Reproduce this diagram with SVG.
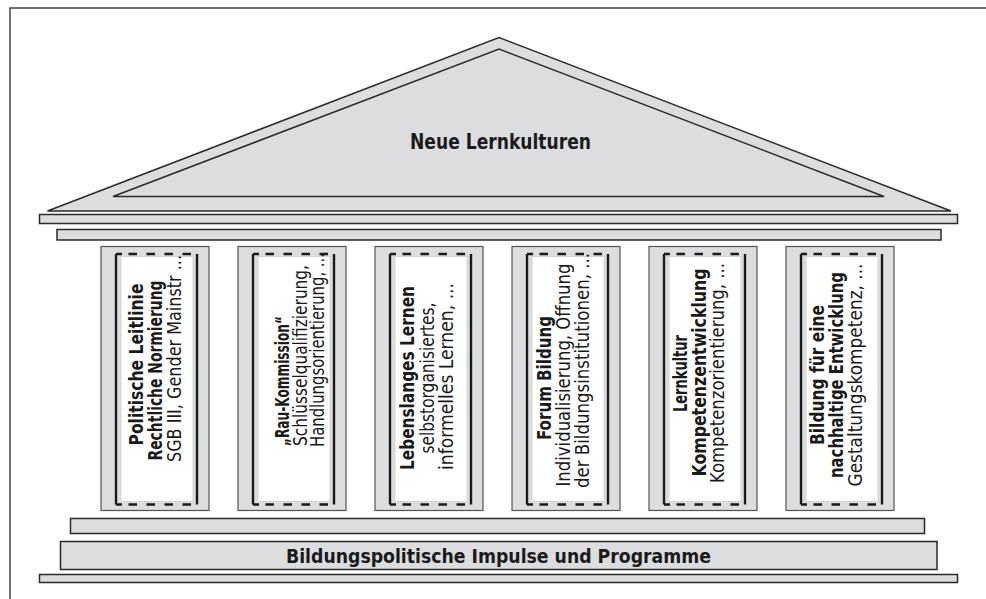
<svg xmlns="http://www.w3.org/2000/svg" width="986" height="599" viewBox="0 0 986 599">
<style>
.frame{fill:none;stroke:#444;stroke-width:1.5}
.g{fill:#dcdddf;stroke:#2a2a2a;stroke-width:1.5}
.colbox{fill:#dcdddf;stroke:#555;stroke-width:1.2}
.inner{fill:#fff;stroke:#d4d4d4;stroke-width:1}
.solid{stroke:#1a1a1a;stroke-width:2.4;fill:none}
.dash{stroke:#1a1a1a;stroke-width:2.4;fill:none;stroke-dasharray:6 6.5 8.5 9.5 8.5 9.5 8.5 9.5 8.5 6}
.b,.r,.t,.u{font-family:"DejaVu Sans Condensed","Liberation Sans",Arial,sans-serif;font-stretch:condensed;fill:#1a1a1a}
.b{font-weight:bold;font-size:19.5px}
.r{font-size:19.5px}
.t{font-weight:bold;font-size:22px}
.u{font-weight:bold;font-size:20px}
</style>
<defs>
<g id="colshape">
<rect class="colbox" x="0" y="0" width="108" height="264"/>
<rect class="inner" x="20" y="10" width="72" height="245"/>
<line class="solid" x1="15" y1="7.5" x2="15" y2="258"/>
<line class="solid" x1="96" y1="7.5" x2="96" y2="258"/>
<line class="dash" x1="15" y1="7.5" x2="96" y2="7.5"/>
<line class="dash" x1="15" y1="258" x2="96" y2="258"/>
</g>
</defs>
<path class="frame" d="M986 8 H10 V599"/>
<g id="roof">
<polygon class="g" points="47.5,211 499,37.5 951,211"/>
<polygon class="g" points="113,196.5 499,49 884,196.5"/>
<text class="t" x="500.5" y="149" text-anchor="middle" textLength="181" lengthAdjust="spacingAndGlyphs">Neue Lernkulturen</text>
</g>
<g id="beam-1"><rect class="g" x="39.5" y="214.5" width="918" height="9"/></g>
<g id="beam-2"><rect class="g" x="57" y="229.5" width="884" height="10.5"/></g>
<g id="col-1" transform="translate(101,246.5)">
<use href="#colshape"/>
<text class="b" text-anchor="middle" textLength="162" lengthAdjust="spacingAndGlyphs" transform="translate(41.7,118) rotate(-90)">Politische Leitlinie</text>
<text class="b" text-anchor="middle" textLength="180" lengthAdjust="spacingAndGlyphs" transform="translate(60.7,124) rotate(-90)">Rechtliche Normierung</text>
<text class="r" text-anchor="middle" textLength="207" lengthAdjust="spacingAndGlyphs" transform="translate(79.7,112) rotate(-90)">SGB III, Gender Mainstr ...</text>
</g>
<g id="col-2" transform="translate(238,246.5)">
<use href="#colshape"/>
<text class="b" text-anchor="start" textLength="130" lengthAdjust="spacingAndGlyphs" transform="translate(51,199.5) rotate(-90)">„Rau-Kommission“</text>
<text class="r" text-anchor="start" textLength="181" lengthAdjust="spacingAndGlyphs" transform="translate(68.5,199.5) rotate(-90)">Schlüsselqualifizierung,</text>
<text class="r" text-anchor="start" textLength="194" lengthAdjust="spacingAndGlyphs" transform="translate(86,200.5) rotate(-90)">Handlungsorientierung, ...</text>
</g>
<g id="col-3" transform="translate(375,246.5)">
<use href="#colshape"/>
<text class="b" text-anchor="middle" textLength="184" lengthAdjust="spacingAndGlyphs" transform="translate(38.5,131.5) rotate(-90)">Lebenslanges Lernen</text>
<text class="r" text-anchor="middle" textLength="151" lengthAdjust="spacingAndGlyphs" transform="translate(58.5,131.5) rotate(-90)">selbstorganisiertes,</text>
<text class="r" text-anchor="middle" textLength="187" lengthAdjust="spacingAndGlyphs" transform="translate(77.5,130) rotate(-90)">informelles Lernen, ...</text>
</g>
<g id="col-4" transform="translate(512,246.5)">
<use href="#colshape"/>
<text class="b" text-anchor="middle" textLength="124" lengthAdjust="spacingAndGlyphs" transform="translate(38.7,131.5) rotate(-90)">Forum Bildung</text>
<text class="r" text-anchor="middle" textLength="223" lengthAdjust="spacingAndGlyphs" transform="translate(58,128.5) rotate(-90)">Individualisierung, Öffnung</text>
<text class="r" text-anchor="middle" textLength="235" lengthAdjust="spacingAndGlyphs" transform="translate(77.3,124) rotate(-90)">der Bildungsinstitutionen, ...</text>
</g>
<g id="col-5" transform="translate(649,246.5)">
<use href="#colshape"/>
<text class="b" text-anchor="middle" textLength="77" lengthAdjust="spacingAndGlyphs" transform="translate(38,127) rotate(-90)">Lernkultur</text>
<text class="b" text-anchor="middle" textLength="208" lengthAdjust="spacingAndGlyphs" transform="translate(56.5,126) rotate(-90)">Kompetenzentwicklung</text>
<text class="r" text-anchor="middle" textLength="220" lengthAdjust="spacingAndGlyphs" transform="translate(75,126.5) rotate(-90)">Kompetenzorientierung, ...</text>
</g>
<g id="col-6" transform="translate(786,246.5)">
<use href="#colshape"/>
<text class="b" text-anchor="middle" textLength="140" lengthAdjust="spacingAndGlyphs" transform="translate(38,128.5) rotate(-90)">Bildung für eine</text>
<text class="b" text-anchor="middle" textLength="206" lengthAdjust="spacingAndGlyphs" transform="translate(57.3,128.5) rotate(-90)">nachhaltige Entwicklung</text>
<text class="r" text-anchor="middle" textLength="223" lengthAdjust="spacingAndGlyphs" transform="translate(76.3,128.5) rotate(-90)">Gestaltungskompetenz, ...</text>
</g>
<g id="base-1"><rect class="g" x="70.5" y="518.5" width="854" height="15"/></g>
<g id="base-2">
<rect class="g" x="60.5" y="541.5" width="876.5" height="28"/>
<text class="u" x="498.5" y="562.5" text-anchor="middle" textLength="425" lengthAdjust="spacingAndGlyphs">Bildungspolitische Impulse und Programme</text>
</g>
<g id="base-3"><rect class="g" x="39.5" y="574.5" width="918" height="8"/></g>
</svg>
